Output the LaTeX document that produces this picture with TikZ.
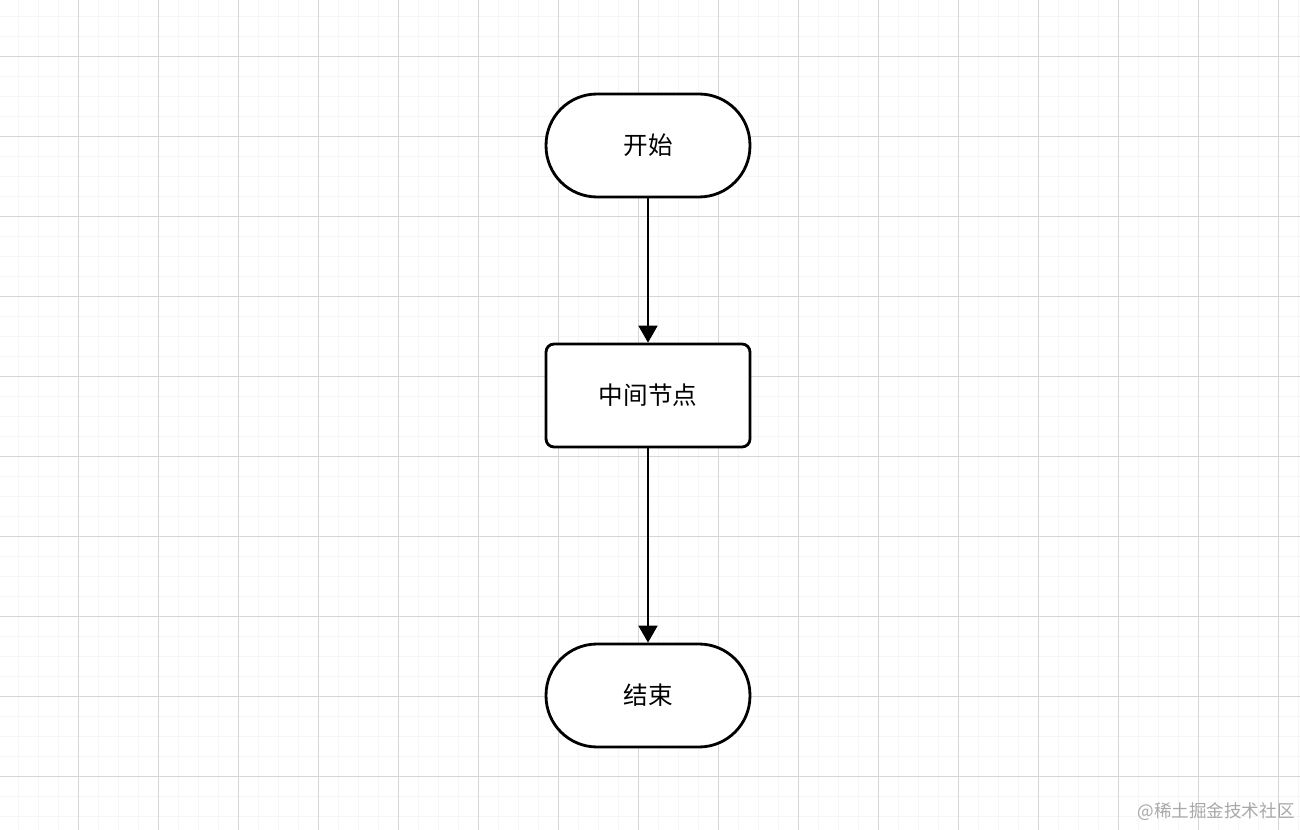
\documentclass[tikz,border=0pt]{standalone}
\usepackage{fontspec}
\setmainfont{Noto Sans CJK SC}
\usepackage{xcolor}
\usepackage{tikz}
\usetikzlibrary{arrows.meta}

\definecolor{gridminor}{HTML}{F6F6F6}
\definecolor{gridmajor}{HTML}{D6D6D6}
\definecolor{marktext}{HTML}{A8A8A8}

\tikzset{
	terminal/.style={draw=black, fill=white, line width=1.6pt, rounded corners=1.02cm,
		minimum width=4.08cm, minimum height=2.06cm, font=\fontsize{14}{16}\selectfont},
	process/.style={draw=black, fill=white, line width=1.6pt, rounded corners=0.16cm,
		minimum width=4.08cm, minimum height=2.06cm, font=\fontsize{14}{16}\selectfont},
	flow/.style={-{Triangle[length=9.6pt,width=10.8pt]}, line width=0.85pt, black}
}

\begin{document}
\begin{tikzpicture}[x=0.02cm, y=-0.02cm]
		\useasboundingbox (0,0) rectangle (1300,830);
		%background
		\fill[white] (0,0) rectangle (1300,830);
		%minor grid
		\foreach \x in {18,38,...,1298} \draw[gridminor, line width=0.5pt] (\x,0) -- (\x,830);
		\foreach \y in {16,36,...,816} \draw[gridminor, line width=0.5pt] (0,\y) -- (1300,\y);
		%major grid
		\foreach \x in {78,158,...,1278} \draw[gridmajor, line width=0.5pt] (\x,0) -- (\x,830);
		\foreach \y in {56,136,...,776} \draw[gridmajor, line width=0.5pt] (0,\y) -- (1300,\y);
		
		%nodes
		\node[terminal] (start) at (648,145.5) {开始};
		\node[process] (middle) at (648,395.5) {中间节点};
		\node[terminal] (end) at (648,695.5) {结束};
		
		%arrows
		\draw[flow] (start) -- (middle);
		\draw[flow] (middle) -- (end);
		
		%watermark
		\node[anchor=east, text=marktext, inner sep=0pt, font=\fontsize{10}{12}\selectfont] (mark) at (1295,812) {@稀土掘金技术社区};
	\end{tikzpicture}
\end{document}
